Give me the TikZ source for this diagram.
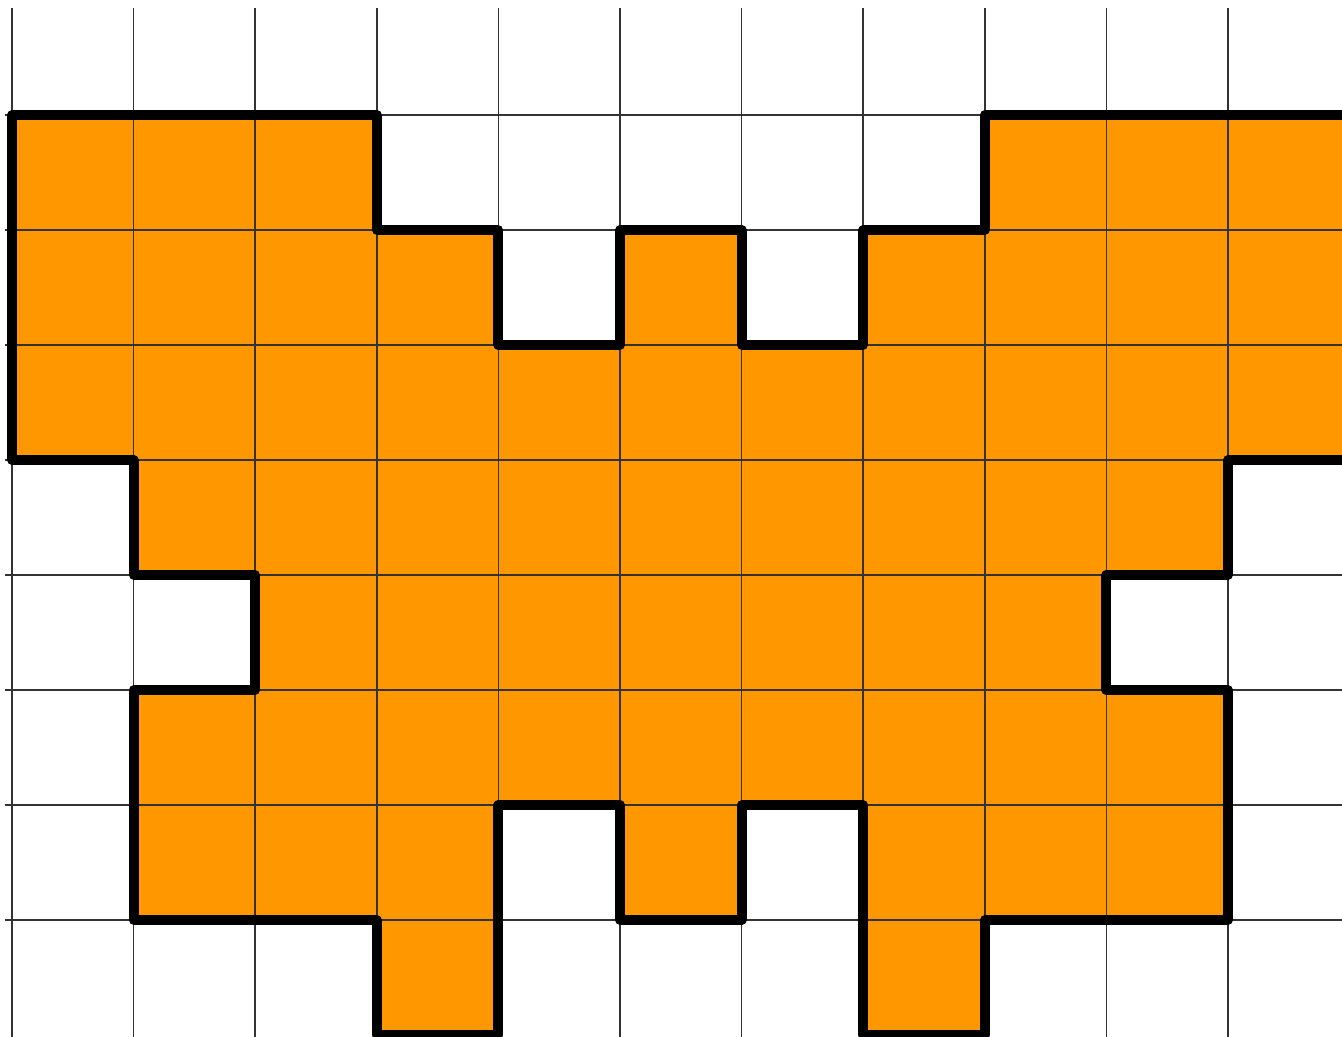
\documentclass[tikz,border=0pt]{standalone}
\usepackage{tikz}

\definecolor{tileorange}{RGB}{255,152,0}

\begin{document}
\begin{tikzpicture}[
    x=1.216cm,
    y=-1.15cm,
    gridline/.style={
        draw=black!80,
        line width=0.45pt
    },
    shapefill/.style={
        fill=tileorange
    },
    shapeline/.style={
        draw=black,
        line width=2.8pt,
        line join=round
    }
]

% Frame of the picture
\coordinate (Fnw) at (-0.0987,0);
\coordinate (Fse) at (10.9375,9.0087);
\useasboundingbox (Fnw) rectangle (Fse);
\clip (Fnw) rectangle (Fse);

% Outline of the figure on the grid
\def\figpath{(0,1) -- (3,1) -- (3,2) -- (4,2) -- (4,3) -- (5,3) -- (5,2)
    -- (6,2) -- (6,3) -- (7,3) -- (7,2) -- (8,2) -- (8,1) -- (11.5,1)
    -- (11.5,4) -- (10,4) -- (10,5) -- (9,5) -- (9,6) -- (10,6) -- (10,8)
    -- (8,8) -- (8,9) -- (7,9) -- (7,7) -- (6,7) -- (6,8) -- (5,8) -- (5,7)
    -- (4,7) -- (4,9) -- (3,9) -- (3,8) -- (1,8) -- (1,6) -- (2,6) -- (2,5)
    -- (1,5) -- (1,4) -- (0,4) -- cycle}

\fill[shapefill] \figpath;

% Grid
\foreach \x in {0,...,10}
    \draw[gridline] (\x,0.07) -- (\x,9.1);
\foreach \y in {1,...,8}
    \draw[gridline] (-0.06,\y) -- (11,\y);

\draw[shapeline] \figpath;

\end{tikzpicture}
\end{document}
